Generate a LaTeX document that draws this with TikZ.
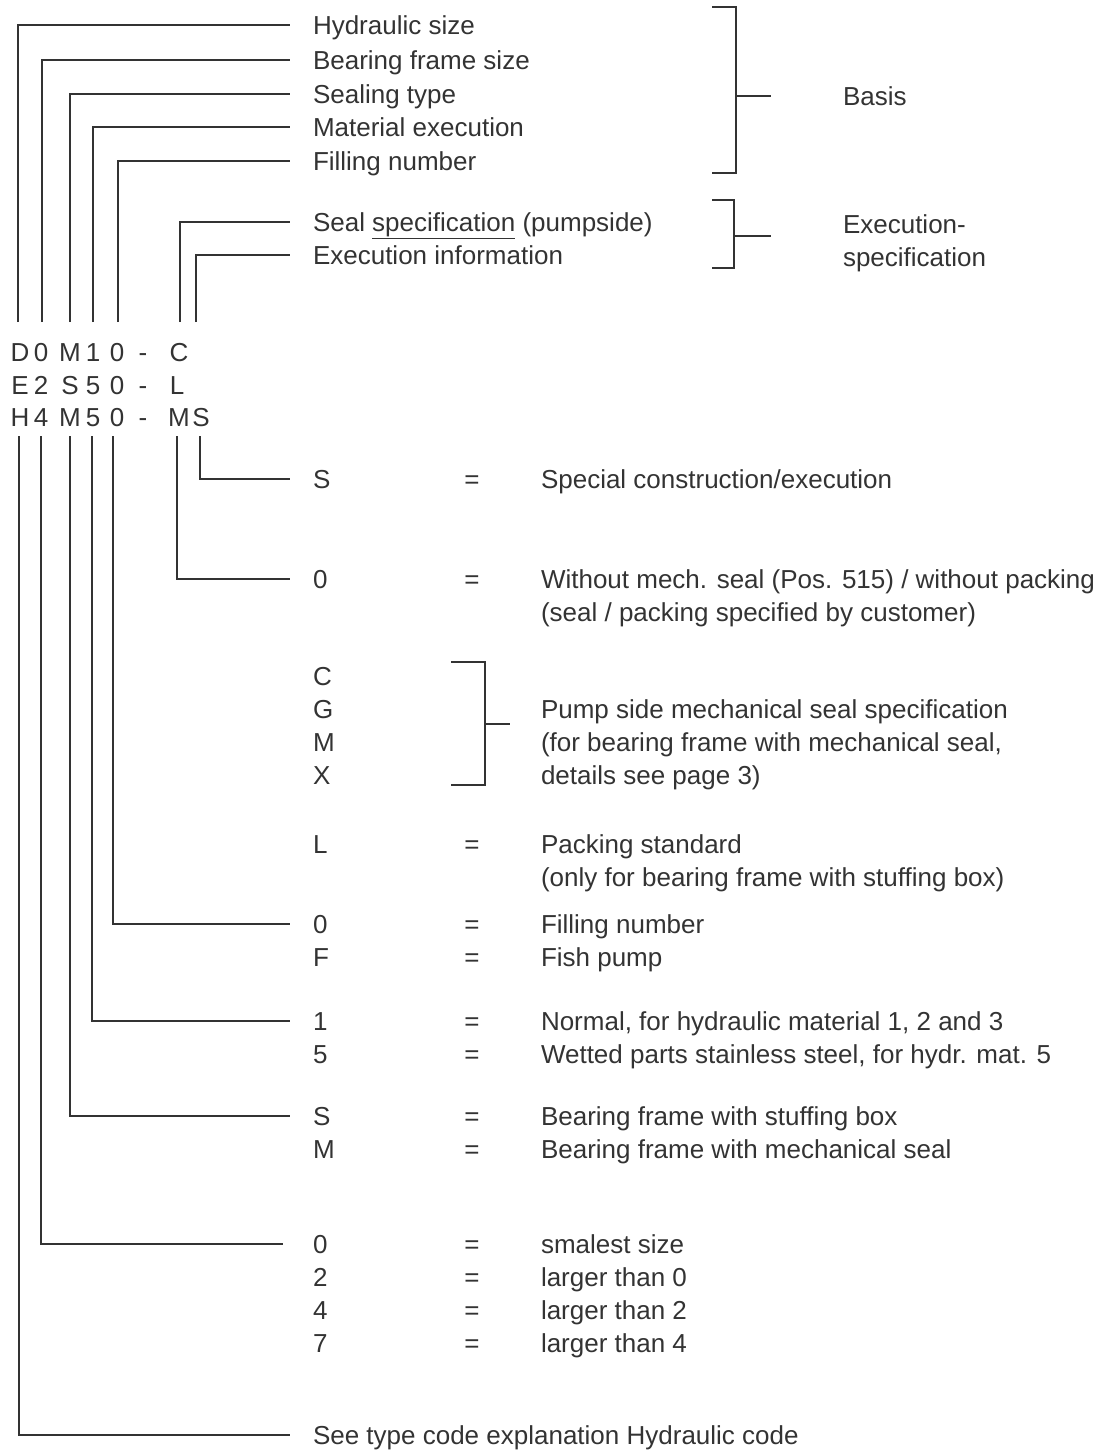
\documentclass[tikz,border=0pt]{standalone}
\usepackage{fontspec}
\setmainfont{Liberation Sans}
\definecolor{ink}{RGB}{51,51,51}
\begin{document}
\begin{tikzpicture}[x=1pt,y=-1pt,
  txt/.style={anchor=west,inner sep=0pt,outer sep=0pt,text height=19pt,text depth=0pt,font=\fontsize{26}{33}\selectfont,text=ink},
  eqs/.style={txt,anchor=center},
  conn/.style={draw=ink,line width=1.6pt},
  lead/.style={conn,shorten >=23pt},
]
\useasboundingbox (0,0) rectangle (1104,1454);

% ---------- code rows ----------
\foreach \x/\c [count=\i] in {20/D,41/0,70/M,93/1,117/0,143/-,179/C}
  \node[eqs] (ra\i) at (\x,352) {\c};
\foreach \x/\c [count=\i] in {20/E,41/2,70/S,93/5,117/0,143/-,177/L}
  \node[eqs] (rb\i) at (\x,385) {\c};
\foreach \x/\c [count=\i] in {20/H,41/4,70/M,93/5,117/0,143/-,179/M,201/S}
  \node[eqs] (rc\i) at (\x,417) {\c};

% ---------- top labels ----------
\node[txt] (hyd) at (313,25)  {Hydraulic size};
\node[txt] (bfs) at (313,60)  {Bearing frame size};
\node[txt] (sty) at (313,94)  {Sealing type};
\node[txt] (mex) at (313,127) {Material execution};
\node[txt] (fno) at (313,161) {Filling number};
\node[txt] (ssp) at (313,222) {Seal \underline{specification} (pumpside)};
\node[txt] (ein) at (313,255) {Execution information};

\coordinate (t1) at (18,322);
\coordinate (t2) at (42,322);
\coordinate (t3) at (70,322);
\coordinate (t4) at (93,322);
\coordinate (t5) at (118,322);
\coordinate (t6) at (180,322);
\coordinate (t7) at (196,322);

\draw[lead] (t1) |- (hyd.west);
\draw[lead] (t2) |- (bfs.west);
\draw[lead] (t3) |- (sty.west);
\draw[lead] (t4) |- (mex.west);
\draw[lead] (t5) |- (fno.west);
\draw[lead] (t6) |- (ssp.west);
\draw[lead] (t7) |- (ein.west);

% ---------- group brackets ----------
\node[txt] (bas) at (843,96)  {Basis};
\node[txt] (ex1) at (843,224) {Execution-};
\node[txt] (ex2) at (843,257) {specification};

\draw[conn] (712,7) -| (736,173) -- (712,173);
\coordinate (bbas) at (736,96);
\draw[conn,shorten >=72pt] (bbas) -- (bas.west);

\draw[conn] (712,200) -| (734,268) -- (712,268);
\coordinate (bexe) at (734,236);
\draw[conn] (bexe) -- (771,236);

% ---------- bottom explanations ----------
\node[txt] (kS)  at (313,479) {S};
\node[eqs] (eS)  at (472,479) {=};
\node[txt] (dS)  at (541,479) {Special construction/execution};

\node[txt] (k0)  at (313,579) {0};
\node[eqs] (e0)  at (472,579) {=};
\node[txt] (d0)  at (541,579) {Without mech. seal (Pos. 515) / without packing};
\node[txt] (d0b) at (541,612) {(seal / packing specified by customer)};

\node[txt] (kC)  at (313,676) {C};
\node[txt] (kG)  at (313,709) {G};
\node[txt] (kM)  at (313,742) {M};
\node[txt] (kX)  at (313,775) {X};
\node[txt] (dP1) at (541,709) {Pump side mechanical seal specification};
\node[txt] (dP2) at (541,742) {(for bearing frame with mechanical seal,};
\node[txt] (dP3) at (541,775) {details see page 3)};
\draw[conn] (451,662) -| (485,785) -- (451,785);
\coordinate (bcg) at (485,724);
\draw[conn] (bcg) -- (510,724);

\node[txt] (kL)  at (313,844) {L};
\node[eqs] (eL)  at (472,844) {=};
\node[txt] (dL)  at (541,844) {Packing standard};
\node[txt] (dLb) at (541,877) {(only for bearing frame with stuffing box)};

\node[txt] (kF0) at (313,924) {0};
\node[eqs] (eF0) at (472,924) {=};
\node[txt] (dF0) at (541,924) {Filling number};
\node[txt] (kF)  at (313,957) {F};
\node[eqs] (eF)  at (472,957) {=};
\node[txt] (dF)  at (541,957) {Fish pump};

\node[txt] (k1)  at (313,1021) {1};
\node[eqs] (e1)  at (472,1021) {=};
\node[txt] (d1)  at (541,1021) {Normal, for hydraulic material 1, 2 and 3};
\node[txt] (k5)  at (313,1054) {5};
\node[eqs] (e5)  at (472,1054) {=};
\node[txt] (d5)  at (541,1054) {Wetted parts stainless steel, for hydr. mat. 5};

\node[txt] (kSS) at (313,1116) {S};
\node[eqs] (eSS) at (472,1116) {=};
\node[txt] (dSS) at (541,1116) {Bearing frame with stuffing box};
\node[txt] (kSM) at (313,1149) {M};
\node[eqs] (eSM) at (472,1149) {=};
\node[txt] (dSM) at (541,1149) {Bearing frame with mechanical seal};

\node[txt] (kB0) at (313,1244) {0};
\node[eqs] (eB0) at (472,1244) {=};
\node[txt] (dB0) at (541,1244) {smalest size};
\node[txt] (kB2) at (313,1277) {2};
\node[eqs] (eB2) at (472,1277) {=};
\node[txt] (dB2) at (541,1277) {larger than 0};
\node[txt] (kB4) at (313,1310) {4};
\node[eqs] (eB4) at (472,1310) {=};
\node[txt] (dB4) at (541,1310) {larger than 2};
\node[txt] (kB7) at (313,1343) {7};
\node[eqs] (eB7) at (472,1343) {=};
\node[txt] (dB7) at (541,1343) {larger than 4};

\node[txt] (kH)  at (313,1435) {See type code explanation Hydraulic code};

% ---------- lower leaders ----------
\coordinate (b1) at (19,436);
\coordinate (b2) at (41,436);
\coordinate (b3) at (70,436);
\coordinate (b4) at (92,436);
\coordinate (b5) at (113,436);
\coordinate (b6) at (177,436);
\coordinate (b7) at (200,436);

\draw[lead] (b7) |- (kS.west);
\draw[lead] (b6) |- (k0.west);
\draw[lead] (b5) |- (kF0.west);
\draw[lead] (b4) |- (k1.west);
\draw[lead] (b3) |- (kSS.west);
\draw[conn,shorten >=30pt] (b2) |- (kB0.west);
\draw[lead] (b1) |- (kH.west);
\end{tikzpicture}
\end{document}
